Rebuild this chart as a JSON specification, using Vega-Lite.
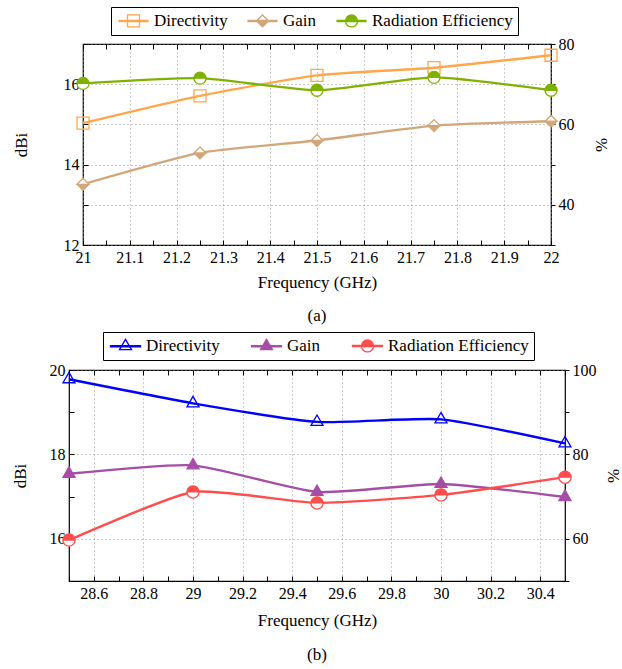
{
  "$schema": "https://vega.github.io/schema/vega-lite/v6.json",
  "background": "white",
  "padding": {"left": 10, "top": 5, "right": 4, "bottom": 4},
  "bounds": "flush",
  "center": true,
  "spacing": 125,
  "config": {
    "font": "Liberation Serif",
    "view": {"stroke": "black", "strokeWidth": 1.2},
    "axis": {
      "domain": false,
      "labelFont": "Liberation Serif",
      "labelFontSize": 16,
      "labelColor": "black",
      "labelOverlap": false,
      "labelBound": false,
      "labelFlush": false,
      "titleFont": "Liberation Serif",
      "titleFontSize": 17,
      "titleFontWeight": "normal",
      "titleColor": "black",
      "tickColor": "black",
      "tickWidth": 1,
      "gridColor": "#8c8c8c",
      "gridDash": [1, 3],
      "gridWidth": 0.9
    },
    "legend": {
      "labelFont": "Liberation Serif",
      "labelFontSize": 17,
      "labelColor": "black",
      "strokeColor": "black",
      "fillColor": "white",
      "padding": 5,
      "symbolSize": 144,
      "symbolStrokeWidth": 1.3,
      "symbolOffset": 9,
      "labelOffset": 12
    },
    "title": {"font": "Liberation Serif", "fontSize": 17, "fontWeight": "normal", "color": "black"}
  },
  "resolve": {"scale": {"color": "independent"}, "legend": {"color": "independent"}},
  "vconcat": [
    {
      "width": 468,
      "height": 201,
      "title": {"text": "(a)", "orient": "bottom", "anchor": "middle", "offset": 18, "font": "Liberation Serif"},
      "data": {
        "values": [
          {"f": 21, "series": "Directivity", "value": 15.03},
          {"f": 21.25, "series": "Directivity", "value": 15.71},
          {"f": 21.5, "series": "Directivity", "value": 16.22},
          {"f": 21.75, "series": "Directivity", "value": 16.41},
          {"f": 22, "series": "Directivity", "value": 16.72},
          {"f": 21, "series": "Gain", "value": 13.51},
          {"f": 21.25, "series": "Gain", "value": 14.29},
          {"f": 21.5, "series": "Gain", "value": 14.6},
          {"f": 21.75, "series": "Gain", "value": 14.97},
          {"f": 22, "series": "Gain", "value": 15.08},
          {"f": 21, "series": "Radiation Efficiency", "value": 70.2},
          {"f": 21.25, "series": "Radiation Efficiency", "value": 71.5},
          {"f": 21.5, "series": "Radiation Efficiency", "value": 68.5},
          {"f": 21.75, "series": "Radiation Efficiency", "value": 71.7},
          {"f": 22, "series": "Radiation Efficiency", "value": 68.5}
        ]
      },
      "layer": [
        {
          "transform": [{"filter": "datum.series != 'Radiation Efficiency'"}],
          "encoding": {
            "x": {
              "field": "f", "type": "quantitative",
              "scale": {"domain": [21, 22], "nice": false, "zero": false},
              "axis": {
                "orient": "bottom", "title": "Frequency (GHz)", "format": "~g",
                "labelFont": "Liberation Serif", "titleFont": "Liberation Serif",
                "values": [21, 21.05, 21.1, 21.15, 21.2, 21.25, 21.3, 21.35, 21.4, 21.45, 21.5, 21.55, 21.6, 21.65, 21.7, 21.75, 21.8, 21.85, 21.9, 21.95, 22],
                "labelExpr": "round(datum.value * 100) % 10 == 0 ? datum.label : ''",
                "tickSize": -5, "labelPadding": 9, "titlePadding": 9,
                "grid": true,
                "gridOpacity": {"condition": {"test": "round(datum.value * 100) % 10 == 0", "value": 1}, "value": 0}
              }
            },
            "y": {
              "field": "value", "type": "quantitative",
              "scale": {"domain": [12, 17], "nice": false, "zero": false},
              "axis": {
                "orient": "left", "title": "dBi",
                "labelFont": "Liberation Serif", "titleFont": "Liberation Serif",
                "values": [12, 13, 14, 15, 16, 17],
                "labelExpr": "datum.value % 2 == 0 ? datum.label : ''",
                "tickSize": -5, "labelPadding": 9, "titlePadding": 33, "grid": true
              }
            }
          },
          "layer": [
            {
              "mark": {"type": "line", "interpolate": "cardinal", "tension": 0.45, "strokeWidth": 2.4},
              "encoding": {
                "color": {
                  "field": "series", "type": "nominal",
                  "scale": {"domain": ["Directivity", "Gain", "Radiation Efficiency"], "range": ["#FFA64C", "#D2A679", "#7FB200"]},
                  "legend": {
                    "title": null, "orient": "none", "legendX": 28, "legendY": -37,
                    "labelFont": "Liberation Serif", "labelFontSize": 17,
                    "direction": "horizontal", "columns": 3, "columnPadding": 17,
                    "encode": {
                      "symbols": {
                        "update": {
                          "shape": {"signal": "datum.value == 'Directivity' ? 'M -2.4 -0.1 L 2.4 -0.1 L 2.4 0.1 L -2.4 0.1 Z M -1 -1 L 1 -1 L 1 1 L -1 1 Z M -1 -1 L -1 1 L 1 1 L 1 -1 Z' : datum.value == 'Gain' ? 'M -2.4 -0.1 L 2.4 -0.1 L 2.4 0.1 L -2.4 0.1 Z M 0 -1 L 1 0 L 0 1 L -1 0 Z M 0 -1 L -1 0 L 1 0 Z' : 'M -2.4 -0.1 L 2.4 -0.1 L 2.4 0.1 L -2.4 0.1 Z M -1 0 A 1 1 0 0 1 1 0 A 1 1 0 0 1 -1 0 Z M -1 0 A 1 1 0 0 0 1 0 Z'"},
                          "fill": {"signal": "datum.value == 'Directivity' ? '#FFA64C' : datum.value == 'Gain' ? '#D2A679' : '#7FB200'"},
                          "stroke": {"signal": "datum.value == 'Directivity' ? '#FFA64C' : datum.value == 'Gain' ? '#D2A679' : '#7FB200'"},
                          "strokeWidth": {"value": 1.3},
                          "opacity": {"value": 1}
                        }
                      }
                    }
                  }
                }
              }
            },
            {
              "transform": [{"filter": "datum.series == 'Directivity'"}],
              "mark": {"type": "point", "shape": "square", "size": 144, "filled": false, "stroke": "#FFA64C", "strokeWidth": 1.3, "opacity": 1}
            },
            {
              "transform": [{"filter": "datum.series == 'Gain'"}],
              "mark": {"type": "point", "shape": "diamond", "size": 144, "filled": true, "fill": "white", "strokeWidth": 0, "opacity": 1}
            },
            {
              "transform": [{"filter": "datum.series == 'Gain'"}],
              "mark": {"type": "point", "shape": "M 0 -1 L 1 0 L 0 1 L -1 0 Z M 0 -1 L -1 0 L 1 0 Z", "size": 144, "filled": true, "fill": "#D2A679", "stroke": "#D2A679", "strokeWidth": 1.3, "opacity": 1}
            }
          ]
        },
        {
          "transform": [{"filter": "datum.series == 'Radiation Efficiency'"}],
          "encoding": {
            "x": {
              "field": "f", "type": "quantitative",
              "scale": {"domain": [21, 22], "nice": false, "zero": false},
              "axis": {
                "orient": "top", "title": null, "labels": false, "grid": false, "tickSize": -5,
                "values": [21, 21.05, 21.1, 21.15, 21.2, 21.25, 21.3, 21.35, 21.4, 21.45, 21.5, 21.55, 21.6, 21.65, 21.7, 21.75, 21.8, 21.85, 21.9, 21.95, 22]
              }
            },
            "y": {
              "field": "value", "type": "quantitative",
              "scale": {"domain": [30, 80], "nice": false, "zero": false},
              "axis": {
                "orient": "right", "title": "%", "titleAngle": 270, "titleBaseline": "top",
                "labelFont": "Liberation Serif", "titleFont": "Liberation Serif",
                "values": [30, 40, 50, 60, 70, 80],
                "labelExpr": "datum.value % 20 == 0 ? datum.label : ''",
                "tickSize": 4, "labelPadding": 3, "titlePadding": 19, "grid": false
              }
            }
          },
          "layer": [
            {
              "mark": {"type": "line", "interpolate": "cardinal", "tension": 0.45, "strokeWidth": 2.4},
              "encoding": {
                "color": {
                  "field": "series", "type": "nominal",
                  "scale": {"domain": ["Directivity", "Gain", "Radiation Efficiency"], "range": ["#FFA64C", "#D2A679", "#7FB200"]}
                }
              }
            },
            {
              "mark": {"type": "point", "shape": "circle", "size": 144, "filled": true, "fill": "white", "strokeWidth": 0, "opacity": 1}
            },
            {
              "mark": {"type": "point", "shape": "M -1 0 A 1 1 0 0 1 1 0 A 1 1 0 0 1 -1 0 Z M -1 0 A 1 1 0 0 0 1 0 Z", "size": 144, "filled": true, "fill": "#7FB200", "stroke": "#7FB200", "strokeWidth": 1.3, "opacity": 1}
            }
          ]
        }
      ],
      "resolve": {"scale": {"y": "independent"}, "axis": {"x": "independent", "y": "independent"}}
    },
    {
      "width": 496,
      "height": 211,
      "title": {"text": "(b)", "orient": "bottom", "anchor": "middle", "offset": 19, "font": "Liberation Serif"},
      "data": {
        "values": [
          {"f": 28.5, "series": "Directivity", "value": 19.78},
          {"f": 29, "series": "Directivity", "value": 19.21},
          {"f": 29.5, "series": "Directivity", "value": 18.77},
          {"f": 30, "series": "Directivity", "value": 18.83},
          {"f": 30.5, "series": "Directivity", "value": 18.26},
          {"f": 28.5, "series": "Gain", "value": 17.54},
          {"f": 29, "series": "Gain", "value": 17.74},
          {"f": 29.5, "series": "Gain", "value": 17.11},
          {"f": 30, "series": "Gain", "value": 17.3},
          {"f": 30.5, "series": "Gain", "value": 16.99},
          {"f": 28.5, "series": "Radiation Efficiency", "value": 59.7},
          {"f": 29, "series": "Radiation Efficiency", "value": 71.1},
          {"f": 29.5, "series": "Radiation Efficiency", "value": 68.5},
          {"f": 30, "series": "Radiation Efficiency", "value": 70.4},
          {"f": 30.5, "series": "Radiation Efficiency", "value": 74.6}
        ]
      },
      "layer": [
        {
          "transform": [{"filter": "datum.series != 'Radiation Efficiency'"}],
          "encoding": {
            "x": {
              "field": "f", "type": "quantitative",
              "scale": {"domain": [28.5, 30.5], "nice": false, "zero": false},
              "axis": {
                "orient": "bottom", "title": "Frequency (GHz)", "format": "~g",
                "labelFont": "Liberation Serif", "titleFont": "Liberation Serif",
                "values": [28.5, 28.6, 28.7, 28.8, 28.9, 29, 29.1, 29.2, 29.3, 29.4, 29.5, 29.6, 29.7, 29.8, 29.9, 30, 30.1, 30.2, 30.3, 30.4, 30.5],
                "labelExpr": "round(datum.value * 10) % 2 == 0 && datum.value > 28.55 && datum.value < 30.45 ? datum.label : ''",
                "tickSize": -5, "labelPadding": 9, "titlePadding": 11,
                "grid": true,
                "gridOpacity": {"condition": {"test": "round(datum.value * 10) % 2 == 0 && datum.value > 28.55 && datum.value < 30.45", "value": 1}, "value": 0}
              }
            },
            "y": {
              "field": "value", "type": "quantitative",
              "scale": {"domain": [15, 20], "nice": false, "zero": false},
              "axis": {
                "orient": "left", "title": "dBi",
                "labelFont": "Liberation Serif", "titleFont": "Liberation Serif",
                "values": [15, 16, 17, 18, 19, 20],
                "labelExpr": "datum.value % 2 == 0 ? datum.label : ''",
                "tickSize": -5, "labelPadding": 9, "titlePadding": 20, "grid": true,
                "gridOpacity": {"condition": {"test": "datum.value % 2 == 0", "value": 1}, "value": 0}
              }
            }
          },
          "layer": [
            {
              "mark": {"type": "line", "interpolate": "cardinal", "tension": 0.45, "strokeWidth": 2.4},
              "encoding": {
                "color": {
                  "field": "series", "type": "nominal",
                  "scale": {"domain": ["Directivity", "Gain", "Radiation Efficiency"], "range": ["#0000FF", "#A64DA6", "#FF4D4D"]},
                  "legend": {
                    "title": null, "orient": "none", "legendX": 34, "legendY": -38,
                    "labelFont": "Liberation Serif", "labelFontSize": 17,
                    "direction": "horizontal", "columns": 3, "columnPadding": 28,
                    "encode": {
                      "symbols": {
                        "update": {
                          "shape": {"signal": "datum.value == 'Directivity' ? 'M -2.5 -0.1 L 2.5 -0.1 L 2.5 0.1 L -2.5 0.1 Z M 0 -1.155 L 1 0.577 L -1 0.577 Z M 0 -1.155 L -1 0.577 L 1 0.577 Z' : datum.value == 'Gain' ? 'M -2.5 -0.1 L 2.5 -0.1 L 2.5 0.1 L -2.5 0.1 Z M 0 -1.155 L 1 0.577 L -1 0.577 Z' : 'M -2.5 -0.1 L 2.5 -0.1 L 2.5 0.1 L -2.5 0.1 Z M -1 0 A 1 1 0 0 1 1 0 A 1 1 0 0 1 -1 0 Z M -1 0 A 1 1 0 0 0 1 0 Z'"},
                          "fill": {"signal": "datum.value == 'Directivity' ? '#0000FF' : datum.value == 'Gain' ? '#A64DA6' : '#FF4D4D'"},
                          "stroke": {"signal": "datum.value == 'Directivity' ? '#0000FF' : datum.value == 'Gain' ? '#A64DA6' : '#FF4D4D'"},
                          "strokeWidth": {"value": 1.3},
                          "opacity": {"value": 1}
                        }
                      }
                    }
                  }
                }
              }
            },
            {
              "transform": [{"filter": "datum.series == 'Directivity'"}],
              "mark": {"type": "point", "shape": "M 0 -1.155 L 1 0.577 L -1 0.577 Z", "size": 144, "filled": false, "stroke": "#0000FF", "strokeWidth": 1.3, "opacity": 1}
            },
            {
              "transform": [{"filter": "datum.series == 'Gain'"}],
              "mark": {"type": "point", "shape": "M 0 -1.155 L 1 0.577 L -1 0.577 Z", "size": 144, "filled": true, "fill": "#A64DA6", "stroke": "#A64DA6", "strokeWidth": 1.3, "opacity": 1}
            }
          ]
        },
        {
          "transform": [{"filter": "datum.series == 'Radiation Efficiency'"}],
          "encoding": {
            "x": {
              "field": "f", "type": "quantitative",
              "scale": {"domain": [28.5, 30.5], "nice": false, "zero": false},
              "axis": {
                "orient": "top", "title": null, "labels": false, "grid": false, "tickSize": -5,
                "values": [28.5, 28.6, 28.7, 28.8, 28.9, 29, 29.1, 29.2, 29.3, 29.4, 29.5, 29.6, 29.7, 29.8, 29.9, 30, 30.1, 30.2, 30.3, 30.4, 30.5]
              }
            },
            "y": {
              "field": "value", "type": "quantitative",
              "scale": {"domain": [50, 100], "nice": false, "zero": false},
              "axis": {
                "orient": "right", "title": "%", "titleAngle": 270, "titleBaseline": "top",
                "labelFont": "Liberation Serif", "titleFont": "Liberation Serif",
                "values": [50, 60, 70, 80, 90, 100],
                "labelExpr": "datum.value % 20 == 0 ? datum.label : ''",
                "tickSize": 4, "labelPadding": 3, "titlePadding": 9, "grid": false
              }
            }
          },
          "layer": [
            {
              "mark": {"type": "line", "interpolate": "cardinal", "tension": 0.45, "strokeWidth": 2.4},
              "encoding": {
                "color": {
                  "field": "series", "type": "nominal",
                  "scale": {"domain": ["Directivity", "Gain", "Radiation Efficiency"], "range": ["#0000FF", "#A64DA6", "#FF4D4D"]}
                }
              }
            },
            {
              "mark": {"type": "point", "shape": "circle", "size": 150, "filled": true, "fill": "white", "strokeWidth": 0, "opacity": 1}
            },
            {
              "mark": {"type": "point", "shape": "M -1 0 A 1 1 0 0 1 1 0 A 1 1 0 0 1 -1 0 Z M -1 0 A 1 1 0 0 0 1 0 Z", "size": 150, "filled": true, "fill": "#FF4D4D", "stroke": "#FF4D4D", "strokeWidth": 1.3, "opacity": 1}
            }
          ]
        }
      ],
      "resolve": {"scale": {"y": "independent"}, "axis": {"x": "independent", "y": "independent"}}
    }
  ]
}
